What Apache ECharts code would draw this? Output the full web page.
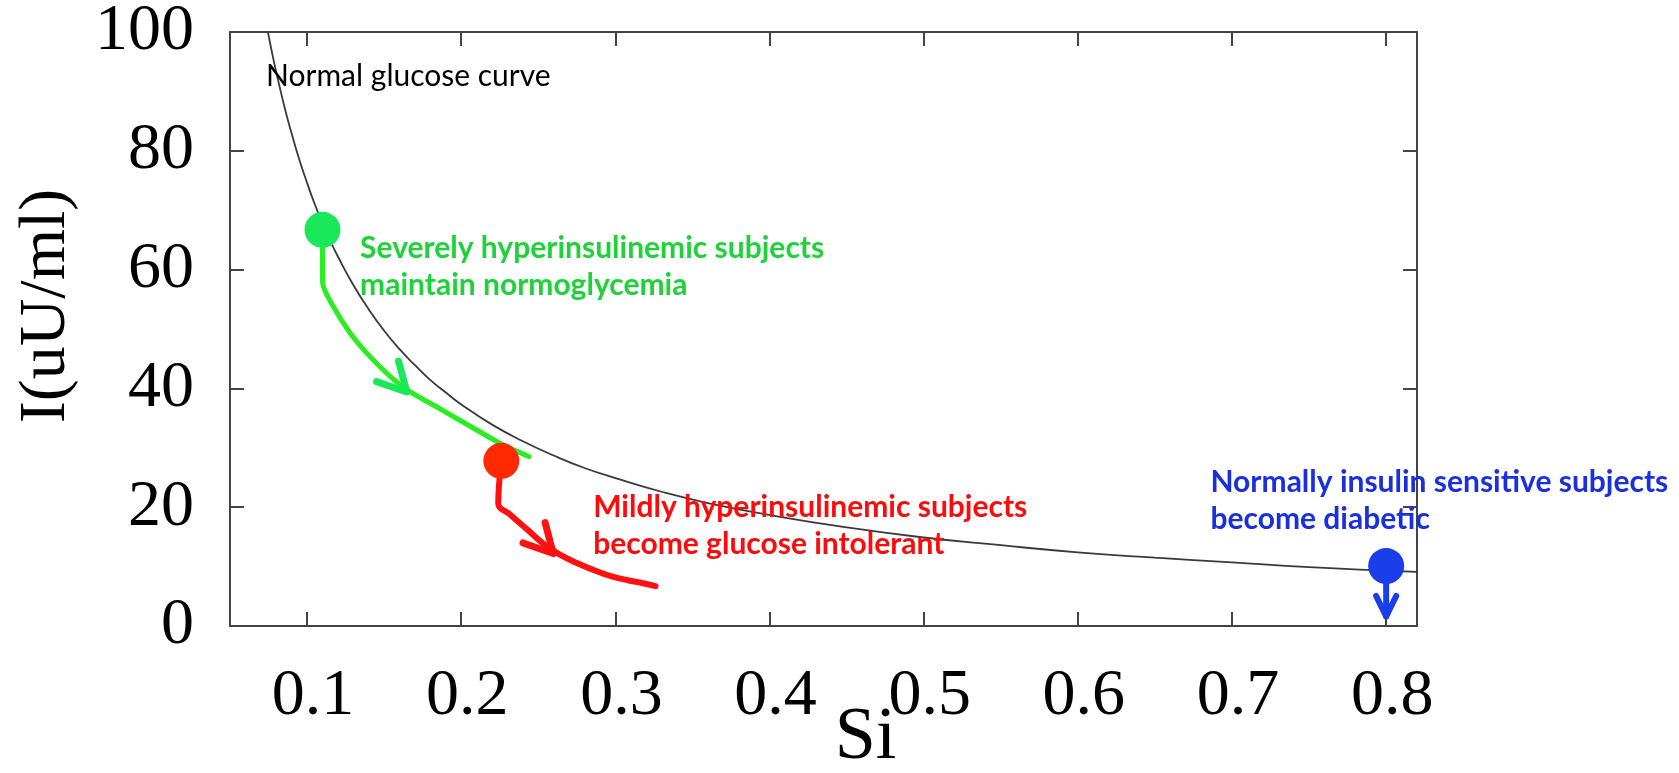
<!DOCTYPE html>
<html>
<head>
<meta charset="utf-8">
<script src="https://cdn.jsdelivr.net/npm/echarts@6/dist/echarts.min.js"></script>
<style>
  html, body { margin: 0; padding: 0; background: #ffffff; }
  #chart { width: 1679px; height: 773px; }
</style>
</head>
<body>
<div id="chart"></div>
<script>
// ---- Axis ticks ----
const siTicks = [0.1, 0.2, 0.3, 0.4, 0.5, 0.6, 0.7, 0.8];
const insulinTicks = [0, 20, 40, 60, 80, 100];

// ---- Normal glucose curve: insulin I (uU/ml) against insulin sensitivity Si ----
const normalCurve = [
  [0.074, 100.8], [0.078, 95.6], [0.082, 91.0], [0.086, 86.7], [0.090, 82.9],
  [0.095, 78.5], [0.100, 74.6], [0.105, 71.0], [0.110, 67.8], [0.115, 64.9],
  [0.120, 62.2], [0.130, 57.4], [0.140, 53.3], [0.150, 49.7], [0.160, 46.6],
  [0.170, 43.9], [0.180, 41.4], [0.190, 39.3], [0.200, 37.3], [0.220, 33.9],
  [0.240, 31.1], [0.260, 28.7], [0.280, 26.6], [0.300, 24.9], [0.330, 22.6],
  [0.360, 20.7], [0.400, 18.7], [0.450, 16.6], [0.500, 14.9], [0.550, 13.6],
  [0.600, 12.4], [0.650, 11.5], [0.700, 10.7], [0.750, 9.9], [0.800, 9.3],
  [0.820, 9.1]
];

// ---- Subject trajectories ----
const severeTrack = [
  [0.110, 66.7], [0.110, 58.0], [0.117, 53.8], [0.128, 49.3], [0.141, 45.3],
  [0.154, 42.0], [0.167, 39.4], [0.186, 36.6], [0.210, 33.0], [0.227, 30.5],
  [0.244, 28.5]
];
const mildTrack = [
  [0.226, 27.8], [0.224, 20.6], [0.232, 18.7], [0.243, 16.2], [0.253, 13.9],
  [0.264, 12.0], [0.275, 10.6], [0.286, 9.4], [0.297, 8.4], [0.308, 7.7],
  [0.318, 7.2], [0.326, 6.7]
];
const normalTrack = [[0.800, 10.1], [0.800, 1.6]];

// ---- Starting points ----
const severeStart = [[0.110, 66.7]];
const mildStart = [[0.226, 27.8]];
const normalStart = [[0.800, 10.1]];

// ---- Direction arrows: [tip Si, tip I, tail Si, tail I] ----
const severeArrow = [[0.1647, 39.4, 0.1557, 41.9]];
const mildArrow = [[0.2597, 12.2, 0.2508, 14.7]];
const normalArrow = [[0.800, 1.6, 0.800, 6.0]];

// ---- Annotation texts ----
const curveLabel = 'Normal glucose curve';
const severeLabel = 'Severely hyperinsulinemic subjects\nmaintain normoglycemia';
const mildLabel = 'Mildly hyperinsulinemic subjects\nbecome glucose intolerant';
const normalLabel = 'Normally insulin sensitive subjects\nbecome diabetic';

const GREEN_LINE = '#2aee22';
const GREEN_DOT = '#19e85a';
const GREEN_TEXT = '#1fd23a';
const RED_LINE = '#ff1111';
const RED_DOT = '#ff2a00';
const RED_TEXT = '#ff0a0a';
const BLUE = '#1a3ee8';
const BLUE_TEXT = '#1a30e0';
const AXIS = '#444444';

const axisLineStyle = { color: AXIS, width: 2 };
const serif = 'Liberation Serif';

// Chevron arrowhead drawn at the tip, opening back toward the tail
function arrowSeries(data, color, len, halfAngle, width) {
  return {
    type: 'custom',
    data: data,
    z: 6,
    encode: { x: [0, 2], y: [1, 3] },
    renderItem: function (params, api) {
      const tip = api.coord([api.value(0), api.value(1)]);
      const tail = api.coord([api.value(2), api.value(3)]);
      const back = Math.atan2(tail[1] - tip[1], tail[0] - tip[0]);
      const a1 = back + halfAngle, a2 = back - halfAngle;
      return {
        type: 'polyline',
        shape: {
          points: [
            [tip[0] + len * Math.cos(a1), tip[1] + len * Math.sin(a1)],
            tip,
            [tip[0] + len * Math.cos(a2), tip[1] + len * Math.sin(a2)]
          ]
        },
        style: { stroke: color, lineWidth: width, fill: null, lineCap: 'round', lineJoin: 'round' }
      };
    }
  };
}

// Text block anchored (top-left) at a data point
function textSeries(anchor, text, color, weight, size, lineHeight) {
  return {
    type: 'custom',
    data: [anchor],
    z: 8,
    silent: true,
    renderItem: function (params, api) {
      const p = api.coord([api.value(0), api.value(1)]);
      return {
        type: 'text',
        x: p[0],
        y: p[1],
        style: {
          text: text,
          fill: color,
          fontFamily: 'Lato',
          fontWeight: weight,
          fontSize: size,
          lineHeight: lineHeight,
          align: 'left',
          verticalAlign: 'top'
        }
      };
    }
  };
}

const chart = echarts.init(document.getElementById('chart'), null, { renderer: 'canvas' });

chart.setOption({
  animation: false,
  backgroundColor: '#ffffff',
  grid: { left: 230, right: 262, top: 32, bottom: 147, outerBoundsMode: 'none' },
  xAxis: [
    {
      type: 'value', position: 'bottom', min: 0.05, max: 0.82,
      axisLine: { show: true, onZero: false, lineStyle: axisLineStyle },
      axisTick: { show: true, inside: true, length: 14, customValues: siTicks, lineStyle: axisLineStyle },
      axisLabel: {
        customValues: siTicks, margin: 38, color: '#000',
        fontFamily: serif, fontSize: 66, padding: [0, 0, 0, 12],
        formatter: v => v.toFixed(1)
      },
      splitLine: { show: false },
      name: 'Si', nameLocation: 'middle', nameGap: 76, nameMoveOverlap: false,
      nameTextStyle: { fontFamily: serif, fontSize: 74, color: '#000', padding: [0, 0, 0, 84] }
    },
    {
      type: 'value', position: 'top', min: 0.05, max: 0.82,
      axisLine: { show: true, onZero: false, lineStyle: axisLineStyle },
      axisTick: { show: true, inside: true, length: 14, customValues: siTicks, lineStyle: axisLineStyle },
      axisLabel: { show: false },
      splitLine: { show: false }
    }
  ],
  yAxis: [
    {
      type: 'value', position: 'left', min: 0, max: 100, interval: 20,
      axisLine: { show: true, onZero: false, lineStyle: axisLineStyle },
      axisTick: { show: true, inside: true, length: 14, lineStyle: axisLineStyle },
      axisLabel: { margin: 36, color: '#000', fontFamily: serif, fontSize: 66, padding: [6, 0, 0, 0] },
      splitLine: { show: false },
      name: 'I(uU/ml)', nameLocation: 'middle', nameGap: 150, nameMoveOverlap: false,
      nameTextStyle: { fontFamily: serif, fontSize: 66, color: '#000', padding: [0, 0, 0, 46] }
    },
    {
      type: 'value', position: 'right', min: 0, max: 100, interval: 20,
      axisLine: { show: true, onZero: false, lineStyle: axisLineStyle },
      axisTick: { show: true, inside: true, length: 14, lineStyle: axisLineStyle },
      axisLabel: { show: false },
      splitLine: { show: false }
    }
  ],
  series: [
    {
      name: 'Normal glucose curve', type: 'line', data: normalCurve,
      smooth: 0.5, showSymbol: false, z: 2,
      lineStyle: { color: '#3a3a3a', width: 1.8 }
    },
    {
      type: 'line', data: severeTrack, smooth: 0.3, showSymbol: false, z: 3,
      lineStyle: { color: GREEN_LINE, width: 5, cap: 'round', join: 'round' }
    },
    {
      type: 'line', data: mildTrack, smooth: 0.4, showSymbol: false, z: 3,
      lineStyle: { color: RED_LINE, width: 6, cap: 'round', join: 'round' }
    },
    {
      type: 'line', data: normalTrack, showSymbol: false, z: 3,
      lineStyle: { color: BLUE, width: 6, cap: 'round' }
    },
    arrowSeries(severeArrow, GREEN_DOT, 32, 28 * Math.PI / 180, 7),
    arrowSeries(mildArrow, RED_LINE, 32, 28 * Math.PI / 180, 7),
    arrowSeries(normalArrow, BLUE, 23, 26 * Math.PI / 180, 6),
    {
      type: 'scatter', data: severeStart, symbolSize: 36, z: 7,
      itemStyle: { color: GREEN_DOT, opacity: 1 }
    },
    {
      type: 'scatter', data: mildStart, symbolSize: 36, z: 7,
      itemStyle: { color: RED_DOT, opacity: 1 }
    },
    {
      type: 'scatter', data: normalStart, symbolSize: 36, z: 7,
      itemStyle: { color: BLUE, opacity: 1 }
    },
    textSeries([0.0734, 95.6], curveLabel, '#000000', 'normal', 30, 36),
    textSeries([0.1344, 66.7], severeLabel, GREEN_TEXT, 'bold', 30, 37),
    textSeries([0.2856, 23.1], mildLabel, RED_TEXT, 'bold', 30, 37),
    textSeries([0.6860, 27.3], normalLabel, BLUE_TEXT, 'bold', 30, 37)
  ]
});
</script>
</body>
</html>
